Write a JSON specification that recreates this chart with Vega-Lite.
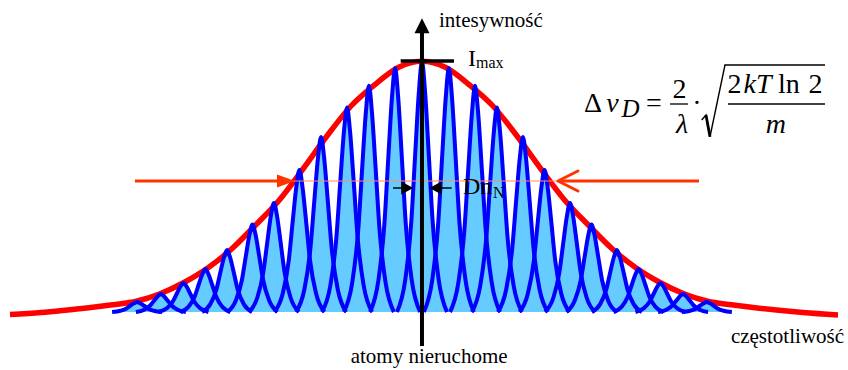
{
  "$schema": "https://vega.github.io/schema/vega-lite/v6.json",
  "width": 848,
  "height": 370,
  "autosize": {"type": "none"},
  "padding": 0,
  "background": "white",
  "config": {"view": {"stroke": null}, "axis": {"disable": true}, "text": {"font": "Liberation Serif"}},
  "datasets": {
    "peaks": [
      {"k":-12,"x":-13.02,"y":0},{"k":-12,"x":-12.67,"y":0.005},{"k":-12,"x":-12.42,"y":0.014},{"k":-12,"x":-12.25,"y":0.026},{"k":-12,"x":-12.1,"y":0.035},{"k":-12,"x":-11.97,"y":0.04},{"k":-12,"x":-11.84,"y":0.035},{"k":-12,"x":-11.69,"y":0.026},{"k":-12,"x":-11.52,"y":0.014},{"k":-12,"x":-11.27,"y":0.005},{"k":-12,"x":-10.92,"y":0},
      {"k":-11,"x":-12.02,"y":0},{"k":-11,"x":-11.67,"y":0.009},{"k":-11,"x":-11.42,"y":0.026},{"k":-11,"x":-11.25,"y":0.046},{"k":-11,"x":-11.1,"y":0.063},{"k":-11,"x":-10.97,"y":0.072},{"k":-11,"x":-10.84,"y":0.063},{"k":-11,"x":-10.69,"y":0.046},{"k":-11,"x":-10.52,"y":0.026},{"k":-11,"x":-10.27,"y":0.009},{"k":-11,"x":-9.92,"y":0},
      {"k":-10,"x":-11.07,"y":0},{"k":-10,"x":-10.72,"y":0.015},{"k":-10,"x":-10.47,"y":0.042},{"k":-10,"x":-10.3,"y":0.074},{"k":-10,"x":-10.15,"y":0.102},{"k":-10,"x":-10.02,"y":0.116},{"k":-10,"x":-9.89,"y":0.102},{"k":-10,"x":-9.74,"y":0.074},{"k":-10,"x":-9.57,"y":0.042},{"k":-10,"x":-9.32,"y":0.015},{"k":-10,"x":-8.97,"y":0},
      {"k":-9,"x":-10.15,"y":0},{"k":-9,"x":-9.8,"y":0.022},{"k":-9,"x":-9.55,"y":0.062},{"k":-9,"x":-9.38,"y":0.11},{"k":-9,"x":-9.23,"y":0.151},{"k":-9,"x":-9.1,"y":0.172},{"k":-9,"x":-8.97,"y":0.151},{"k":-9,"x":-8.82,"y":0.11},{"k":-9,"x":-8.65,"y":0.062},{"k":-9,"x":-8.4,"y":0.022},{"k":-9,"x":-8.05,"y":0},
      {"k":-8,"x":-9.24,"y":0},{"k":-8,"x":-8.89,"y":0.032},{"k":-8,"x":-8.64,"y":0.089},{"k":-8,"x":-8.47,"y":0.159},{"k":-8,"x":-8.32,"y":0.218},{"k":-8,"x":-8.19,"y":0.248},{"k":-8,"x":-8.06,"y":0.218},{"k":-8,"x":-7.91,"y":0.159},{"k":-8,"x":-7.74,"y":0.089},{"k":-8,"x":-7.49,"y":0.032},{"k":-8,"x":-7.14,"y":0},
      {"k":-7,"x":-8.17,"y":0},{"k":-7,"x":-7.82,"y":0.046},{"k":-7,"x":-7.57,"y":0.126},{"k":-7,"x":-7.4,"y":0.224},{"k":-7,"x":-7.25,"y":0.308},{"k":-7,"x":-7.12,"y":0.35},{"k":-7,"x":-6.99,"y":0.308},{"k":-7,"x":-6.84,"y":0.224},{"k":-7,"x":-6.67,"y":0.126},{"k":-7,"x":-6.42,"y":0.046},{"k":-7,"x":-6.07,"y":0},
      {"k":-6,"x":-7.27,"y":0},{"k":-6,"x":-6.92,"y":0.057},{"k":-6,"x":-6.67,"y":0.157},{"k":-6,"x":-6.5,"y":0.279},{"k":-6,"x":-6.35,"y":0.384},{"k":-6,"x":-6.22,"y":0.436},{"k":-6,"x":-6.09,"y":0.384},{"k":-6,"x":-5.94,"y":0.279},{"k":-6,"x":-5.77,"y":0.157},{"k":-6,"x":-5.52,"y":0.057},{"k":-6,"x":-5.17,"y":0},
      {"k":-5,"x":-6.2,"y":0},{"k":-5,"x":-5.85,"y":0.074},{"k":-5,"x":-5.6,"y":0.204},{"k":-5,"x":-5.43,"y":0.364},{"k":-5,"x":-5.28,"y":0.5},{"k":-5,"x":-5.15,"y":0.568},{"k":-5,"x":-5.02,"y":0.5},{"k":-5,"x":-4.87,"y":0.364},{"k":-5,"x":-4.7,"y":0.204},{"k":-5,"x":-4.45,"y":0.074},{"k":-5,"x":-4.1,"y":0},
      {"k":-4,"x":-5.29,"y":0},{"k":-4,"x":-4.94,"y":0.091},{"k":-4,"x":-4.69,"y":0.252},{"k":-4,"x":-4.52,"y":0.448},{"k":-4,"x":-4.37,"y":0.616},{"k":-4,"x":-4.24,"y":0.7},{"k":-4,"x":-4.11,"y":0.616},{"k":-4,"x":-3.96,"y":0.448},{"k":-4,"x":-3.79,"y":0.252},{"k":-4,"x":-3.54,"y":0.091},{"k":-4,"x":-3.19,"y":0},
      {"k":-3,"x":-4.2,"y":0},{"k":-3,"x":-3.85,"y":0.106},{"k":-3,"x":-3.6,"y":0.294},{"k":-3,"x":-3.43,"y":0.524},{"k":-3,"x":-3.28,"y":0.72},{"k":-3,"x":-3.15,"y":0.818},{"k":-3,"x":-3.02,"y":0.72},{"k":-3,"x":-2.87,"y":0.524},{"k":-3,"x":-2.7,"y":0.294},{"k":-3,"x":-2.45,"y":0.106},{"k":-3,"x":-2.1,"y":0},
      {"k":-2,"x":-3.28,"y":0},{"k":-2,"x":-2.93,"y":0.118},{"k":-2,"x":-2.68,"y":0.326},{"k":-2,"x":-2.51,"y":0.579},{"k":-2,"x":-2.36,"y":0.796},{"k":-2,"x":-2.23,"y":0.905},{"k":-2,"x":-2.1,"y":0.796},{"k":-2,"x":-1.95,"y":0.579},{"k":-2,"x":-1.78,"y":0.326},{"k":-2,"x":-1.53,"y":0.118},{"k":-2,"x":-1.18,"y":0},
      {"k":-1,"x":-2.18,"y":0},{"k":-1,"x":-1.83,"y":0.127},{"k":-1,"x":-1.58,"y":0.351},{"k":-1,"x":-1.41,"y":0.625},{"k":-1,"x":-1.26,"y":0.859},{"k":-1,"x":-1.13,"y":0.976},{"k":-1,"x":-1.0,"y":0.859},{"k":-1,"x":-0.85,"y":0.625},{"k":-1,"x":-0.68,"y":0.351},{"k":-1,"x":-0.43,"y":0.127},{"k":-1,"x":-0.08,"y":0},
      {"k":0,"x":-1.05,"y":0},{"k":0,"x":-0.7,"y":0.13},{"k":0,"x":-0.45,"y":0.36},{"k":0,"x":-0.28,"y":0.64},{"k":0,"x":-0.13,"y":0.88},{"k":0,"x":0,"y":1},{"k":0,"x":0.13,"y":0.88},{"k":0,"x":0.28,"y":0.64},{"k":0,"x":0.45,"y":0.36},{"k":0,"x":0.7,"y":0.13},{"k":0,"x":1.05,"y":0},
      {"k":1,"x":0.08,"y":0},{"k":1,"x":0.43,"y":0.127},{"k":1,"x":0.68,"y":0.351},{"k":1,"x":0.85,"y":0.625},{"k":1,"x":1.0,"y":0.859},{"k":1,"x":1.13,"y":0.976},{"k":1,"x":1.26,"y":0.859},{"k":1,"x":1.41,"y":0.625},{"k":1,"x":1.58,"y":0.351},{"k":1,"x":1.83,"y":0.127},{"k":1,"x":2.18,"y":0},
      {"k":2,"x":1.18,"y":0},{"k":2,"x":1.53,"y":0.118},{"k":2,"x":1.78,"y":0.326},{"k":2,"x":1.95,"y":0.579},{"k":2,"x":2.1,"y":0.796},{"k":2,"x":2.23,"y":0.905},{"k":2,"x":2.36,"y":0.796},{"k":2,"x":2.51,"y":0.579},{"k":2,"x":2.68,"y":0.326},{"k":2,"x":2.93,"y":0.118},{"k":2,"x":3.28,"y":0},
      {"k":3,"x":2.1,"y":0},{"k":3,"x":2.45,"y":0.106},{"k":3,"x":2.7,"y":0.294},{"k":3,"x":2.87,"y":0.524},{"k":3,"x":3.02,"y":0.72},{"k":3,"x":3.15,"y":0.818},{"k":3,"x":3.28,"y":0.72},{"k":3,"x":3.43,"y":0.524},{"k":3,"x":3.6,"y":0.294},{"k":3,"x":3.85,"y":0.106},{"k":3,"x":4.2,"y":0},
      {"k":4,"x":3.19,"y":0},{"k":4,"x":3.54,"y":0.091},{"k":4,"x":3.79,"y":0.252},{"k":4,"x":3.96,"y":0.448},{"k":4,"x":4.11,"y":0.616},{"k":4,"x":4.24,"y":0.7},{"k":4,"x":4.37,"y":0.616},{"k":4,"x":4.52,"y":0.448},{"k":4,"x":4.69,"y":0.252},{"k":4,"x":4.94,"y":0.091},{"k":4,"x":5.29,"y":0},
      {"k":5,"x":4.1,"y":0},{"k":5,"x":4.45,"y":0.074},{"k":5,"x":4.7,"y":0.204},{"k":5,"x":4.87,"y":0.364},{"k":5,"x":5.02,"y":0.5},{"k":5,"x":5.15,"y":0.568},{"k":5,"x":5.28,"y":0.5},{"k":5,"x":5.43,"y":0.364},{"k":5,"x":5.6,"y":0.204},{"k":5,"x":5.85,"y":0.074},{"k":5,"x":6.2,"y":0},
      {"k":6,"x":5.17,"y":0},{"k":6,"x":5.52,"y":0.057},{"k":6,"x":5.77,"y":0.157},{"k":6,"x":5.94,"y":0.279},{"k":6,"x":6.09,"y":0.384},{"k":6,"x":6.22,"y":0.436},{"k":6,"x":6.35,"y":0.384},{"k":6,"x":6.5,"y":0.279},{"k":6,"x":6.67,"y":0.157},{"k":6,"x":6.92,"y":0.057},{"k":6,"x":7.27,"y":0},
      {"k":7,"x":6.07,"y":0},{"k":7,"x":6.42,"y":0.046},{"k":7,"x":6.67,"y":0.126},{"k":7,"x":6.84,"y":0.224},{"k":7,"x":6.99,"y":0.308},{"k":7,"x":7.12,"y":0.35},{"k":7,"x":7.25,"y":0.308},{"k":7,"x":7.4,"y":0.224},{"k":7,"x":7.57,"y":0.126},{"k":7,"x":7.82,"y":0.046},{"k":7,"x":8.17,"y":0},
      {"k":8,"x":7.14,"y":0},{"k":8,"x":7.49,"y":0.032},{"k":8,"x":7.74,"y":0.089},{"k":8,"x":7.91,"y":0.159},{"k":8,"x":8.06,"y":0.218},{"k":8,"x":8.19,"y":0.248},{"k":8,"x":8.32,"y":0.218},{"k":8,"x":8.47,"y":0.159},{"k":8,"x":8.64,"y":0.089},{"k":8,"x":8.89,"y":0.032},{"k":8,"x":9.24,"y":0},
      {"k":9,"x":8.05,"y":0},{"k":9,"x":8.4,"y":0.022},{"k":9,"x":8.65,"y":0.062},{"k":9,"x":8.82,"y":0.11},{"k":9,"x":8.97,"y":0.151},{"k":9,"x":9.1,"y":0.172},{"k":9,"x":9.23,"y":0.151},{"k":9,"x":9.38,"y":0.11},{"k":9,"x":9.55,"y":0.062},{"k":9,"x":9.8,"y":0.022},{"k":9,"x":10.15,"y":0},
      {"k":10,"x":8.97,"y":0},{"k":10,"x":9.32,"y":0.015},{"k":10,"x":9.57,"y":0.042},{"k":10,"x":9.74,"y":0.074},{"k":10,"x":9.89,"y":0.102},{"k":10,"x":10.02,"y":0.116},{"k":10,"x":10.15,"y":0.102},{"k":10,"x":10.3,"y":0.074},{"k":10,"x":10.47,"y":0.042},{"k":10,"x":10.72,"y":0.015},{"k":10,"x":11.07,"y":0},
      {"k":11,"x":9.92,"y":0},{"k":11,"x":10.27,"y":0.009},{"k":11,"x":10.52,"y":0.026},{"k":11,"x":10.69,"y":0.046},{"k":11,"x":10.84,"y":0.063},{"k":11,"x":10.97,"y":0.072},{"k":11,"x":11.1,"y":0.063},{"k":11,"x":11.25,"y":0.046},{"k":11,"x":11.42,"y":0.026},{"k":11,"x":11.67,"y":0.009},{"k":11,"x":12.02,"y":0},
      {"k":12,"x":10.92,"y":0},{"k":12,"x":11.27,"y":0.005},{"k":12,"x":11.52,"y":0.014},{"k":12,"x":11.69,"y":0.026},{"k":12,"x":11.84,"y":0.035},{"k":12,"x":11.97,"y":0.04},{"k":12,"x":12.1,"y":0.035},{"k":12,"x":12.25,"y":0.026},{"k":12,"x":12.42,"y":0.014},{"k":12,"x":12.67,"y":0.005},{"k":12,"x":13.02,"y":0}
    ],
    "envelope": [
      {"x":-17.31,"y":-0.01},{"x":-16,"y":-0.002},{"x":-15,"y":0.007},{"x":-14,"y":0.017},{"x":-13,"y":0.029},{"x":-12,"y":0.043},{"x":-11,"y":0.073},{"x":-10,"y":0.118},{"x":-9,"y":0.176},{"x":-8,"y":0.252},{"x":-7,"y":0.347},{"x":-6,"y":0.447},{"x":-5,"y":0.572},{"x":-4,"y":0.703},{"x":-3,"y":0.822},{"x":-2,"y":0.908},{"x":-1,"y":0.978},{"x":0,"y":1.003},
      {"x":1,"y":0.978},{"x":2,"y":0.908},{"x":3,"y":0.822},{"x":4,"y":0.703},{"x":5,"y":0.572},{"x":6,"y":0.447},{"x":7,"y":0.347},{"x":8,"y":0.252},{"x":9,"y":0.176},{"x":10,"y":0.118},{"x":11,"y":0.073},{"x":12,"y":0.043},{"x":13,"y":0.029},{"x":14,"y":0.017},{"x":15,"y":0.007},{"x":16,"y":-0.002},{"x":17.48,"y":-0.012}
    ]
  },
  "encoding": {
    "x": {"field": "x", "type": "quantitative", "scale": {"domain": [-17.73, 17.9], "nice": false, "zero": false}, "axis": null},
    "y": {"field": "y", "type": "quantitative", "scale": {"domain": [-0.232, 1.248], "nice": false, "zero": false}, "axis": null}
  },
  "layer": [
    {
      "data": {"name": "peaks"},
      "mark": {"type": "area", "interpolate": "monotone", "color": "#66ccff", "opacity": 1},
      "encoding": {
        "y": {"field": "y", "type": "quantitative", "stack": null, "scale": {"domain": [-0.232, 1.248], "nice": false, "zero": false}, "axis": null},
        "y2": {"datum": 0},
        "detail": {"field": "k"}
      }
    },
    {
      "data": {"name": "envelope"},
      "mark": {"type": "line", "interpolate": "monotone", "color": "#ff0000", "strokeWidth": 5.5},
      "encoding": {}
    },
    {
      "data": {"name": "peaks"},
      "mark": {"type": "line", "interpolate": "monotone", "color": "#0000ff", "strokeWidth": 4},
      "encoding": {"detail": {"field": "k"}}
    },
    {
      "data": {"values": [{"x": -5.546, "x2": 5.714, "y": 0.524}]},
      "mark": {"type": "rule", "color": "#ff8a70", "strokeWidth": 1.2},
      "encoding": {"x2": {"field": "x2"}}
    },
    {
      "data": {"values": [{"x": -12.06, "x2": -5.966, "y": 0.524}, {"x": 5.798, "x2": 11.639, "y": 0.524}]},
      "mark": {"type": "rule", "color": "#ff3300", "strokeWidth": 3},
      "encoding": {"x2": {"field": "x2"}}
    },
    {
      "data": {"values": [{"x": -5.714, "y": 0.524}]},
      "mark": {"type": "point", "shape": "M-1,-0.72L1,0L-1,0.72Z", "size": 324, "filled": true, "color": "#ff3300", "opacity": 1}
    },
    {
      "data": {"values": [{"x": 6.134, "y": 0.524}]},
      "mark": {"type": "point", "shape": "M1,-1L-1,0L1,1", "size": 400, "filled": false, "stroke": "#ff3300", "strokeWidth": 3, "strokeCap": "round", "strokeJoin": "round", "opacity": 1}
    },
    {
      "data": {"values": [{"x": 0, "y": 1.128, "y2": -0.136}]},
      "mark": {"type": "rule", "color": "#000000", "strokeWidth": 4},
      "encoding": {"y2": {"field": "y2"}}
    },
    {
      "data": {"values": [{"x": 0, "y": 1.145}]},
      "mark": {"type": "point", "shape": "M0,-1L1,1L-1,1Z", "size": 225, "filled": true, "color": "#000000", "opacity": 1}
    },
    {
      "data": {"values": [{"x": -0.895, "x2": 1.345, "y": 1.004}]},
      "mark": {"type": "rule", "color": "#000000", "strokeWidth": 3.3},
      "encoding": {"x2": {"field": "x2"}}
    },
    {
      "data": {"values": [{"x": -1.218, "x2": -0.84, "y": 0.496}, {"x": 0.756, "x2": 1.248, "y": 0.496}]},
      "mark": {"type": "rule", "color": "#000000", "strokeWidth": 1.5},
      "encoding": {"x2": {"field": "x2"}}
    },
    {
      "data": {"values": [{"x": -0.618, "y": 0.496}]},
      "mark": {"type": "point", "shape": "M-1,-1.1L1,0L-1,1.1Z", "size": 144, "filled": true, "color": "#000000", "opacity": 1}
    },
    {
      "data": {"values": [{"x": 0.567, "y": 0.496}]},
      "mark": {"type": "point", "shape": "M1,-1.1L-1,0L1,1.1Z", "size": 144, "filled": true, "color": "#000000", "opacity": 1}
    },
    {
      "data": {"values": [{"x": 10.42, "x2": 11.176, "y": 0.832}, {"x": 12.857, "x2": 16.933, "y": 0.832}]},
      "mark": {"type": "rule", "color": "#000000", "strokeWidth": 1.3},
      "encoding": {"x2": {"field": "x2"}}
    },
    {
      "data": {"values": [{"x": 11.752, "y": 0.768, "o": 1}, {"x": 11.933, "y": 0.788, "o": 2}, {"x": 12.101, "y": 0.701, "o": 3}, {"x": 12.731, "y": 0.988, "o": 4}, {"x": 16.933, "y": 0.988, "o": 5}]},
      "mark": {"type": "line", "color": "#000000", "strokeWidth": 1.4, "strokeJoin": "miter"},
      "encoding": {"order": {"field": "o"}}
    },
    {
      "data": {"values": [{"x": 11.933, "y": 0.788, "o": 1}, {"x": 12.101, "y": 0.701, "o": 2}]},
      "mark": {"type": "line", "color": "#000000", "strokeWidth": 2.8},
      "encoding": {"order": {"field": "o"}}
    },
    {
      "data": {"values": [
        {"x": 0.714, "y": 1.141, "t": "intesywność"},
        {"x": -2.996, "y": -0.204, "t": "atomy nieruchome"},
        {"x": 12.98, "y": -0.124, "t": "częstotliwość"}
      ]},
      "mark": {"type": "text", "fontSize": 21, "align": "left", "baseline": "alphabetic", "color": "#000000"},
      "encoding": {"text": {"field": "t"}}
    },
    {
      "data": {"values": [
        {"x": 1.933, "y": 0.984, "t": "I"},
        {"x": 1.723, "y": 0.472, "t": "Dn"}
      ]},
      "mark": {"type": "text", "fontSize": 24, "align": "left", "baseline": "alphabetic", "color": "#000000"},
      "encoding": {"text": {"field": "t"}}
    },
    {
      "data": {"values": [
        {"x": 2.27, "y": 0.976, "t": "max"},
        {"x": 2.983, "y": 0.456, "t": "N"}
      ]},
      "mark": {"type": "text", "fontSize": 16, "align": "left", "baseline": "alphabetic", "color": "#000000"},
      "encoding": {"text": {"field": "t"}}
    },
    {
      "data": {"values": [
        {"x": 7.185, "y": 0.801, "t": "Δ"},
        {"x": 9.748, "y": 0.801, "t": "="},
        {"x": 10.819, "y": 0.855, "t": "2"},
        {"x": 11.555, "y": 0.801, "t": "·"},
        {"x": 13.13, "y": 0.875, "t": "2"},
        {"x": 15.42, "y": 0.875, "t": "ln"},
        {"x": 16.534, "y": 0.875, "t": "2"}
      ]},
      "mark": {"type": "text", "fontSize": 28, "align": "center", "baseline": "alphabetic", "color": "#000000"},
      "encoding": {"text": {"field": "t"}}
    },
    {
      "data": {"values": [
        {"x": 8.004, "y": 0.801, "t": "ν"},
        {"x": 10.924, "y": 0.717, "t": "λ"},
        {"x": 14.097, "y": 0.875, "t": "kT"},
        {"x": 14.874, "y": 0.717, "t": "m"}
      ]},
      "mark": {"type": "text", "fontSize": 28, "fontStyle": "italic", "align": "center", "baseline": "alphabetic", "color": "#000000"},
      "encoding": {"text": {"field": "t"}}
    },
    {
      "data": {"values": [{"x": 8.761, "y": 0.781, "t": "D"}]},
      "mark": {"type": "text", "fontSize": 25, "fontStyle": "italic", "align": "center", "baseline": "alphabetic", "color": "#000000"},
      "encoding": {"text": {"field": "t"}}
    }
  ]
}
